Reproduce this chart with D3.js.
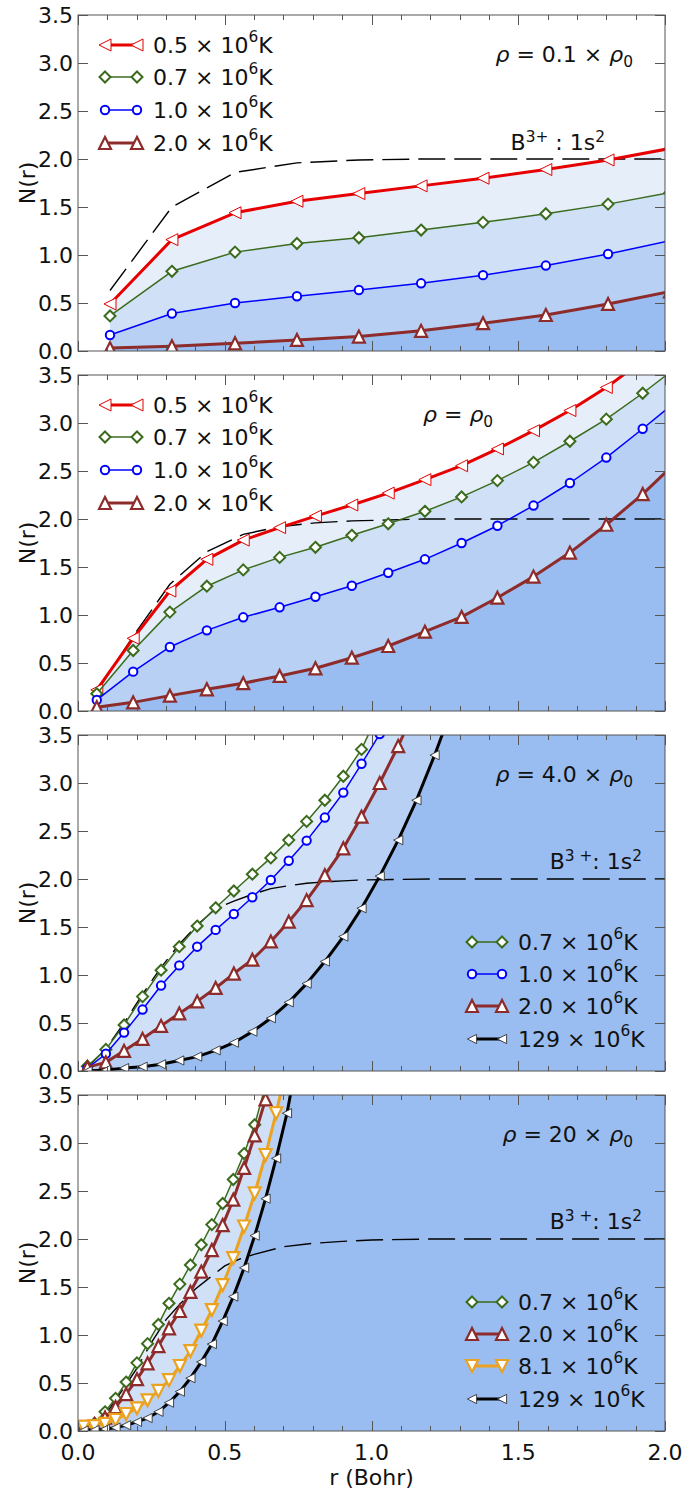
<!DOCTYPE html>
<html><head><meta charset="utf-8">
<script src="https://cdn.jsdelivr.net/npm/d3@7"></script>
<style>body{margin:0;background:#fff} svg{display:block} text{font-family:"DejaVu Sans",sans-serif;fill:#111}</style>
</head><body><svg id="c" width="699" height="1491"></svg>
<script>
// ---------------- data ----------------
const yTicks = ["0.0","0.5","1.0","1.5","2.0","2.5","3.0","3.5"];
const xTicks = ["0.0","0.5","1.0","1.5","2.0"];

// panel 1: rho = 0.1 rho0
const p1R   = [0.109,0.320,0.535,0.746,0.957,1.169,1.380,1.594,1.806,2.017];
const p1_05 = [0.49,1.16,1.44,1.56,1.64,1.72,1.80,1.89,1.99,2.11];
const p1_07 = [0.365,0.83,1.03,1.12,1.18,1.26,1.34,1.43,1.53,1.65];
const p1_10 = [0.167,0.39,0.50,0.57,0.635,0.705,0.79,0.89,1.01,1.15];
const p1_20 = [0.03,0.05,0.08,0.115,0.15,0.21,0.29,0.375,0.49,0.62];
const p1Ion = [0.63,1.50,1.86,1.96,1.99,2.0,2.0,2.0,2.0,2.0];

// panel 2: rho = rho0
const p2R   = [0.064,0.188,0.313,0.439,0.563,0.687,0.809,0.933,1.057,1.182,1.307,1.429,1.552,1.676,1.800,1.924,2.048];
const p2_05 = [0.22,0.757,1.25,1.58,1.78,1.91,2.03,2.146,2.27,2.41,2.555,2.73,2.92,3.13,3.37,3.65,3.95];
const p2_07 = [0.18,0.63,1.03,1.30,1.47,1.60,1.705,1.83,1.95,2.08,2.23,2.40,2.59,2.81,3.04,3.31,3.6];
const p2_10 = [0.115,0.41,0.667,0.84,0.976,1.08,1.19,1.305,1.44,1.58,1.75,1.93,2.14,2.375,2.64,2.94,3.25];
const p2_20 = [0.04,0.09,0.16,0.226,0.29,0.365,0.445,0.555,0.677,0.826,0.98,1.18,1.40,1.65,1.94,2.26,2.62];
const p2Ion = [0.2,0.78,1.32,1.66,1.84,1.92,1.96,1.98,1.99,2.0,2.0,2.0,2.0,2.0,2.0,2.0,2.0];

// panel 3: rho = 4.0 rho0
const p3R    = [0.032,0.095,0.157,0.220,0.283,0.345,0.406,0.469,0.531,0.594,0.657,0.718,0.779,0.841,0.904,0.966,1.028,1.091,1.153,1.215,1.277];
const p3_07  = [0.05,0.225,0.48,0.775,1.05,1.295,1.51,1.70,1.875,2.05,2.22,2.405,2.60,2.82,3.07,3.35,3.76];
const p3_10  = [0.03,0.18,0.40,0.64,0.89,1.10,1.295,1.47,1.635,1.81,1.99,2.19,2.40,2.64,2.90,3.20,3.51];
const p3_20  = [0.04,0.09,0.21,0.335,0.47,0.60,0.725,0.865,1.015,1.16,1.35,1.555,1.78,2.04,2.32,2.65,3.0,3.385,3.8];
const p3_129 = [0.0,0.01,0.03,0.045,0.07,0.11,0.15,0.215,0.295,0.41,0.55,0.715,0.91,1.14,1.40,1.695,2.03,2.405,2.82,3.29,3.8];
const p3IonR = [0.032,0.095,0.157,0.220,0.283,0.345,0.406,0.469,0.531,0.594,0.657,0.718,0.779,0.841,0.904,0.966,1.2,1.5,2.0];
const p3Ion  = [0.04,0.23,0.50,0.80,1.08,1.32,1.52,1.69,1.77,1.84,1.90,1.93,1.955,1.97,1.98,1.99,2.0,2.0,2.0];

// panel 4: rho = 20 rho0
const p4R    = [0.019,0.056,0.092,0.128,0.164,0.201,0.237,0.274,0.310,0.347,0.383,0.420,0.456,0.493,0.529,0.566,0.602,0.639,0.675,0.712,0.748];
const p4_07  = [0.02,0.08,0.20,0.34,0.51,0.71,0.91,1.11,1.33,1.53,1.73,1.94,2.15,2.37,2.62,2.89,3.19,3.6];
const p4_20  = [0.03,0.07,0.14,0.25,0.385,0.54,0.705,0.885,1.07,1.25,1.45,1.66,1.885,2.145,2.41,2.74,3.08,3.455,3.85];
const p4_81  = [0.045,0.05,0.075,0.115,0.177,0.236,0.32,0.417,0.53,0.677,0.833,1.045,1.26,1.52,1.80,2.13,2.475,2.875,3.31,3.8];
const p4_129 = [0.005,0.01,0.02,0.035,0.06,0.095,0.135,0.20,0.295,0.41,0.55,0.72,0.905,1.145,1.40,1.70,2.035,2.42,2.84,3.31,3.9];
const p4IonR = [0.1,0.15,0.2,0.25,0.3,0.35,0.4,0.45,0.5,0.55,0.6,0.7,0.8,0.9,1.0,1.2,1.5,2.0];
const p4Ion  = [0.2,0.42,0.65,0.92,1.16,1.33,1.48,1.60,1.72,1.79,1.84,1.92,1.955,1.975,1.99,2.0,2.0,2.0];

// series labels (temperature prefactor, ×10^6 K)
const T = {t05:"0.5", t07:"0.7", t10:"1.0", t20:"2.0", t81:"8.1", t129:"129"};

// ---------------- styles ----------------
const STY = {
  t05:{color:"#e60000",lw:3,  m:"left",   s:6,   mfill:"#fff",mstroke:"#e60000",msw:1},
  t07:{color:"#3b6b1d",lw:1.5,m:"diamond",s:5.5, mfill:"#fff",mstroke:"#3b6b1d",msw:2},
  t10:{color:"#0000ff",lw:1.5,m:"circle", s:4.2, mfill:"#fff",mstroke:"#0000ff",msw:2},
  t20:{color:"#8e2b2b",lw:3,  m:"up",     s:6,   mfill:"#fff",mstroke:"#8e2b2b",msw:2.2},
  t81:{color:"#eba21f",lw:3,  m:"down",   s:6,   mfill:"#fff",mstroke:"#eba21f",msw:2.2},
  t129:{color:"#000",  lw:3,  m:"left",   s:4.6, mfill:"#fff",mstroke:"#333",   msw:0.9}
};
const FILLS = ["#e6eefa","#d0e0f7","#b7d0f4","#99bdf0"];

const panels = [
  {r:p1R, series:[["t05",p1_05],["t07",p1_07],["t10",p1_10],["t20",p1_20]], ionR:p1R, ion:p1Ion,
   rho:["0.1 × "], legend:"left", bLabel:{x:605, dy:135, spaced:false}},
  {r:p2R, series:[["t05",p2_05],["t07",p2_07],["t10",p2_10],["t20",p2_20]], ionR:p2R, ion:p2Ion,
   rho:null, legend:"left", bLabel:null},
  {r:p3R, series:[["t07",p3_07],["t10",p3_10],["t20",p3_20],["t129",p3_129]], ionR:p3IonR, ion:p3Ion,
   rho:["4.0 × "], legend:"right", bLabel:{x:642, dy:134, spaced:true}},
  {r:p4R, series:[["t07",p4_07],["t20",p4_20],["t81",p4_81],["t129",p4_129]], ionR:p4IonR, ion:p4Ion,
   rho:["20 × "], legend:"right", bLabel:{x:642, dy:134, spaced:true}}
];

// ---------------- drawing ----------------
const svg = d3.select("#c");
const X0 = 78, X1 = 665, PH = 336;
const tops = [15,375,735,1095];
const x = d3.scaleLinear().domain([0,2]).range([X0,X1]);
const FS = 22;

function markerPath(type,s){
  switch(type){
    case "left": return `M${-s},0L${s},${-s}L${s},${s}Z`;
    case "up": return `M0,${-s}L${-s},${s}L${s},${s}Z`;
    case "down": return `M0,${s}L${-s},${-s}L${s},${-s}Z`;
    case "diamond": return `M0,${-s}L${s},0L0,${s}L${-s},0Z`;
    case "circle": return d3.symbol(d3.symbolCircle, Math.PI*s*s)();
  }
}

function drawSeries(g, pts, st){
  g.append("path").datum(pts)
    .attr("d", d3.line().x(d=>d[0]).y(d=>d[1]))
    .attr("fill","none").attr("stroke",st.color).attr("stroke-width",st.lw)
    .attr("stroke-linejoin","round");
  g.selectAll(null).data(pts).enter().append("path")
    .attr("transform",d=>`translate(${d[0]},${d[1]})`)
    .attr("d",markerPath(st.m,st.s))
    .attr("fill",st.mfill).attr("stroke",st.mstroke).attr("stroke-width",st.msw)
    .attr("stroke-linejoin","miter");
}

function supText(sel, parts){
  parts.forEach(([t,k])=>{
    const ts = sel.append("tspan").text(t);
    if(k==="sup"){ ts.attr("dy",-8).attr("font-size",FS*0.7); }
    else if(k==="sub"){ ts.attr("dy",5).attr("font-size",FS*0.7); }
    else if(k==="it"){ ts.attr("font-style","italic"); }
    if(k==="nAfterSup"){ ts.attr("dy",8); }
  });
}

panels.forEach((P,pi)=>{
  const top = tops[pi];
  const y = d3.scaleLinear().domain([0,3.5]).range([top+PH, top]);
  const clipId = "clip"+pi;
  svg.append("clipPath").attr("id",clipId).append("rect")
    .attr("x",X0).attr("y",top).attr("width",X1-X0).attr("height",PH);
  const g = svg.append("g").attr("clip-path",`url(#${clipId})`);

  // fills: each curve filled down to zero, top curve first
  P.series.forEach(([key,vals],i)=>{
    const pts = vals.map((v,j)=>[P.r[j],v]);
    const last = pts[pts.length-1];
    if(last[0] < x.domain()[1]) pts.push([x.domain()[1], last[1]]);
    pts.unshift([pts[0][0], 0]);
    g.append("path").datum(pts)
      .attr("d", d3.area().x(d=>x(d[0])).y0(y(0)).y1(d=>y(d[1])))
      .attr("fill",FILLS[i]).attr("stroke","none");
  });

  // isolated ion dashed curve
  g.append("path").datum(P.ion.map((v,j)=>[P.ionR[j],v]))
    .attr("d", d3.line().x(d=>x(d[0])).y(d=>y(d[1])))
    .attr("fill","none").attr("stroke","#000").attr("stroke-width",1.4)
    .attr("stroke-dasharray","27,9");

  // series lines + markers
  P.series.forEach(([key,vals])=>{
    drawSeries(g, vals.map((v,j)=>[x(P.r[j]), y(v)]), STY[key]);
  });

  // spines
  svg.append("rect").attr("x",X0).attr("y",top).attr("width",X1-X0).attr("height",PH)
    .attr("fill","none").attr("stroke","#555").attr("stroke-width",1);

  // ticks
  const tk = svg.append("g").attr("stroke","#555").attr("stroke-width",1);
  d3.range(0,21).forEach(i=>{
    const v=i/10, len = (i%5===0)?10:5, px = Math.round(x(v))+0.5;
    tk.append("line").attr("x1",px).attr("x2",px).attr("y1",top).attr("y2",top+len);
    tk.append("line").attr("x1",px).attr("x2",px).attr("y1",top+PH).attr("y2",top+PH-len);
  });
  yTicks.forEach(t=>{
    const py = Math.round(y(+t))+0.5;
    tk.append("line").attr("x1",X0).attr("x2",X0+10).attr("y1",py).attr("y2",py);
    tk.append("line").attr("x1",X1).attr("x2",X1-10).attr("y1",py).attr("y2",py);
    svg.append("text").attr("x",73).attr("y",y(+t)).attr("text-anchor","end")
      .attr("dominant-baseline","central").attr("font-size",FS).text(t);
  });

  // y label
  svg.append("text").attr("transform",`translate(27,${top+PH/2}) rotate(-90)`)
    .attr("text-anchor","middle").attr("dominant-baseline","central")
    .attr("font-size",FS).text("N(r)");

  // rho label
  const rt = svg.append("text").attr("font-size",FS).attr("y",top+47);
  if(P.rho){
    rt.attr("x",633).attr("text-anchor","end");
    supText(rt, [["ρ","it"],[" = "+P.rho[0],"n"],["ρ","it"],["0","sub"]]);
  } else {
    rt.attr("x",423).attr("text-anchor","start");
    supText(rt, [["ρ","it"],[" = ","n"],["ρ","it"],["0","sub"]]);
  }

  // B3+ label
  if(P.bLabel){
    const bt = svg.append("text").attr("font-size",FS).attr("x",P.bLabel.x)
      .attr("y",top+P.bLabel.dy).attr("text-anchor","end");
    if(P.bLabel.spaced) supText(bt, [["B","n"],["3 +","sup"],[": 1s","nAfterSup"],["2","sup"]]);
    else supText(bt, [["B","n"],["3+","sup"],[" : 1s","nAfterSup"],["2","sup"]]);
  }

  // legend
  const L = P.legend==="left" ? {x1:105,x2:137,tx:153,dy:[30,62,95,128]}
                              : {x1:472,x2:502,tx:518,dy:[207,239,271,304]};
  P.series.forEach(([key],i)=>{
    const st = STY[key], ly = top+L.dy[i];
    const lg = svg.append("g");
    drawSeries(lg, [[L.x1,ly],[L.x2,ly]], st);
    const t = svg.append("text").attr("x",L.tx).attr("y",ly).attr("font-size",FS)
      .attr("dominant-baseline","central");
    supText(t, [[T[key]+" × 10","n"],["6","sup"],["K","nAfterSup"]]);
  });

  // x tick labels (bottom panel only)
  if(pi===panels.length-1){
    xTicks.forEach(t=>{
      svg.append("text").attr("x",x(+t)).attr("y",top+PH+21).attr("text-anchor","middle")
        .attr("dominant-baseline","central").attr("font-size",FS).text(t);
    });
    svg.append("text").attr("x",(X0+X1)/2).attr("y",top+PH+46).attr("text-anchor","middle")
      .attr("dominant-baseline","central").attr("font-size",FS).text("r (Bohr)");
  }
});
</script></body></html>
